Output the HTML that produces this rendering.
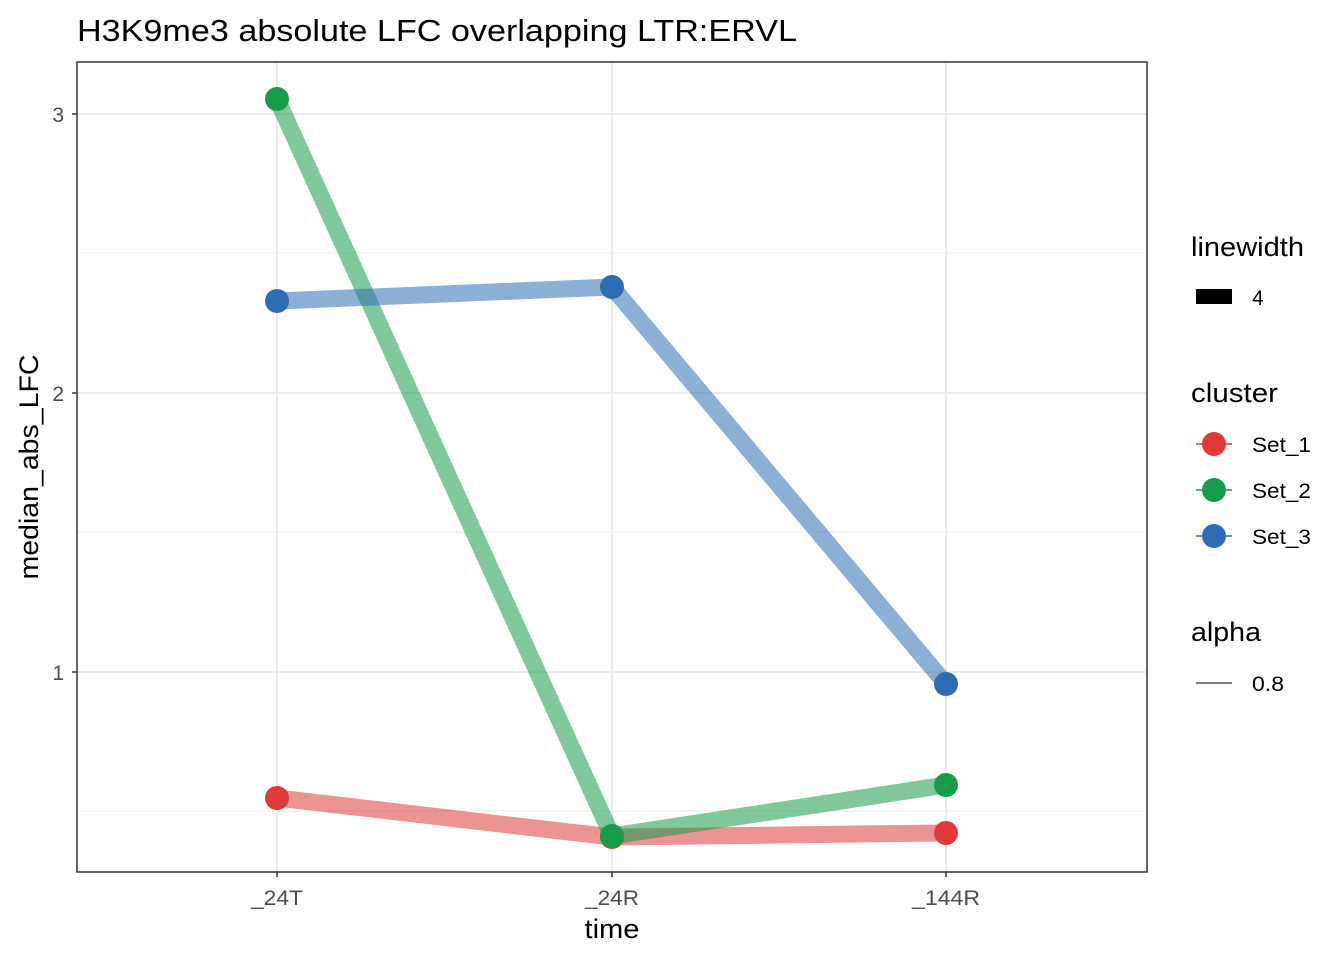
<!DOCTYPE html>
<html><head><meta charset="utf-8"><style>body{margin:0;background:#fff}</style></head>
<body>
<svg width="1344" height="960" xmlns="http://www.w3.org/2000/svg" font-family="Liberation Sans, sans-serif">
<rect width="1344" height="960" fill="#fff"/>
<text x="77" y="41" font-size="31" fill="#000" textLength="720" lengthAdjust="spacingAndGlyphs">H3K9me3 absolute LFC overlapping LTR:ERVL</text>
<g stroke="#ebebeb" stroke-width="1">
<line x1="77" x2="1147" y1="253" y2="253"/><line x1="77" x2="1147" y1="532" y2="532"/><line x1="77" x2="1147" y1="811" y2="811"/>
</g>
<g stroke="#ebebeb" stroke-width="2">
<line x1="77" x2="1147" y1="114" y2="114"/><line x1="77" x2="1147" y1="393" y2="393"/><line x1="77" x2="1147" y1="672" y2="672"/>
<line x1="277" x2="277" y1="62" y2="872"/><line x1="612" x2="612" y1="62" y2="872"/><line x1="946" x2="946" y1="62" y2="872"/>
</g>
<g fill="none" stroke-width="17" stroke-opacity="0.55" stroke-linejoin="round">
<polyline points="277,798 612,837 946,833" stroke="#DC3A3B"/>
<polyline points="277,99 612,836 946,785" stroke="#179B4A"/>
<polyline points="277,301 612,287 946,684" stroke="#2E6DB4"/>
</g>
<g>
<circle cx="277" cy="798" r="12" fill="#DC3A3B"/><circle cx="612" cy="837" r="12" fill="#DC3A3B"/><circle cx="946" cy="833" r="12" fill="#DC3A3B"/>
<circle cx="277" cy="99" r="12" fill="#179B4A"/><circle cx="612" cy="836" r="12" fill="#179B4A"/><circle cx="946" cy="785" r="12" fill="#179B4A"/>
<circle cx="277" cy="301" r="12" fill="#2E6DB4"/><circle cx="612" cy="287" r="12" fill="#2E6DB4"/><circle cx="946" cy="684" r="12" fill="#2E6DB4"/>
</g>
<rect x="77" y="62" width="1070" height="810" fill="none" stroke="#333" stroke-width="1.5"/>
<g stroke="#333" stroke-width="1.5">
<line x1="72" x2="77" y1="114" y2="114"/><line x1="72" x2="77" y1="393" y2="393"/><line x1="72" x2="77" y1="672" y2="672"/>
<line x1="277" x2="277" y1="872" y2="877"/><line x1="612" x2="612" y1="872" y2="877"/><line x1="946" x2="946" y1="872" y2="877"/>
</g>
<g font-size="21" fill="#4d4d4d" text-anchor="end">
<text x="64" y="122">3</text><text x="64" y="401">2</text><text x="64" y="680">1</text>
</g>
<g font-size="21" fill="#4d4d4d" text-anchor="middle">
<text x="277" y="905" textLength="52" lengthAdjust="spacingAndGlyphs">_24T</text><text x="612" y="905" textLength="54" lengthAdjust="spacingAndGlyphs">_24R</text><text x="946" y="905" textLength="68" lengthAdjust="spacingAndGlyphs">_144R</text>
</g>
<text x="612" y="938" font-size="27" text-anchor="middle" textLength="55" lengthAdjust="spacingAndGlyphs">time</text>
<text transform="translate(38,467) rotate(-90)" font-size="27" text-anchor="middle" textLength="225" lengthAdjust="spacingAndGlyphs">median_abs_LFC</text>
<g font-size="27"><text x="1191" y="256" textLength="113" lengthAdjust="spacingAndGlyphs">linewidth</text><text x="1191" y="402" textLength="87" lengthAdjust="spacingAndGlyphs">cluster</text><text x="1191" y="641" textLength="70" lengthAdjust="spacingAndGlyphs">alpha</text></g>
<rect x="1196" y="289" width="36" height="15" fill="#000"/>
<g font-size="21"><text x="1252" y="305">4</text><text x="1252" y="452" textLength="59" lengthAdjust="spacingAndGlyphs">Set_1</text><text x="1252" y="498" textLength="59" lengthAdjust="spacingAndGlyphs">Set_2</text><text x="1252" y="544" textLength="59" lengthAdjust="spacingAndGlyphs">Set_3</text><text x="1252" y="691" textLength="32" lengthAdjust="spacingAndGlyphs">0.8</text></g>
<g stroke-width="1.5">
<line x1="1196" x2="1232" y1="444" y2="444" stroke="#DC3A3B"/><circle cx="1214" cy="444" r="12" fill="#DC3A3B"/>
<line x1="1196" x2="1232" y1="490" y2="490" stroke="#179B4A"/><circle cx="1214" cy="490" r="12" fill="#179B4A"/>
<line x1="1196" x2="1232" y1="536" y2="536" stroke="#2E6DB4"/><circle cx="1214" cy="536" r="12" fill="#2E6DB4"/>
<line x1="1196" x2="1232" y1="683" y2="683" stroke="#555"/>
</g>
</svg>
</body></html>
